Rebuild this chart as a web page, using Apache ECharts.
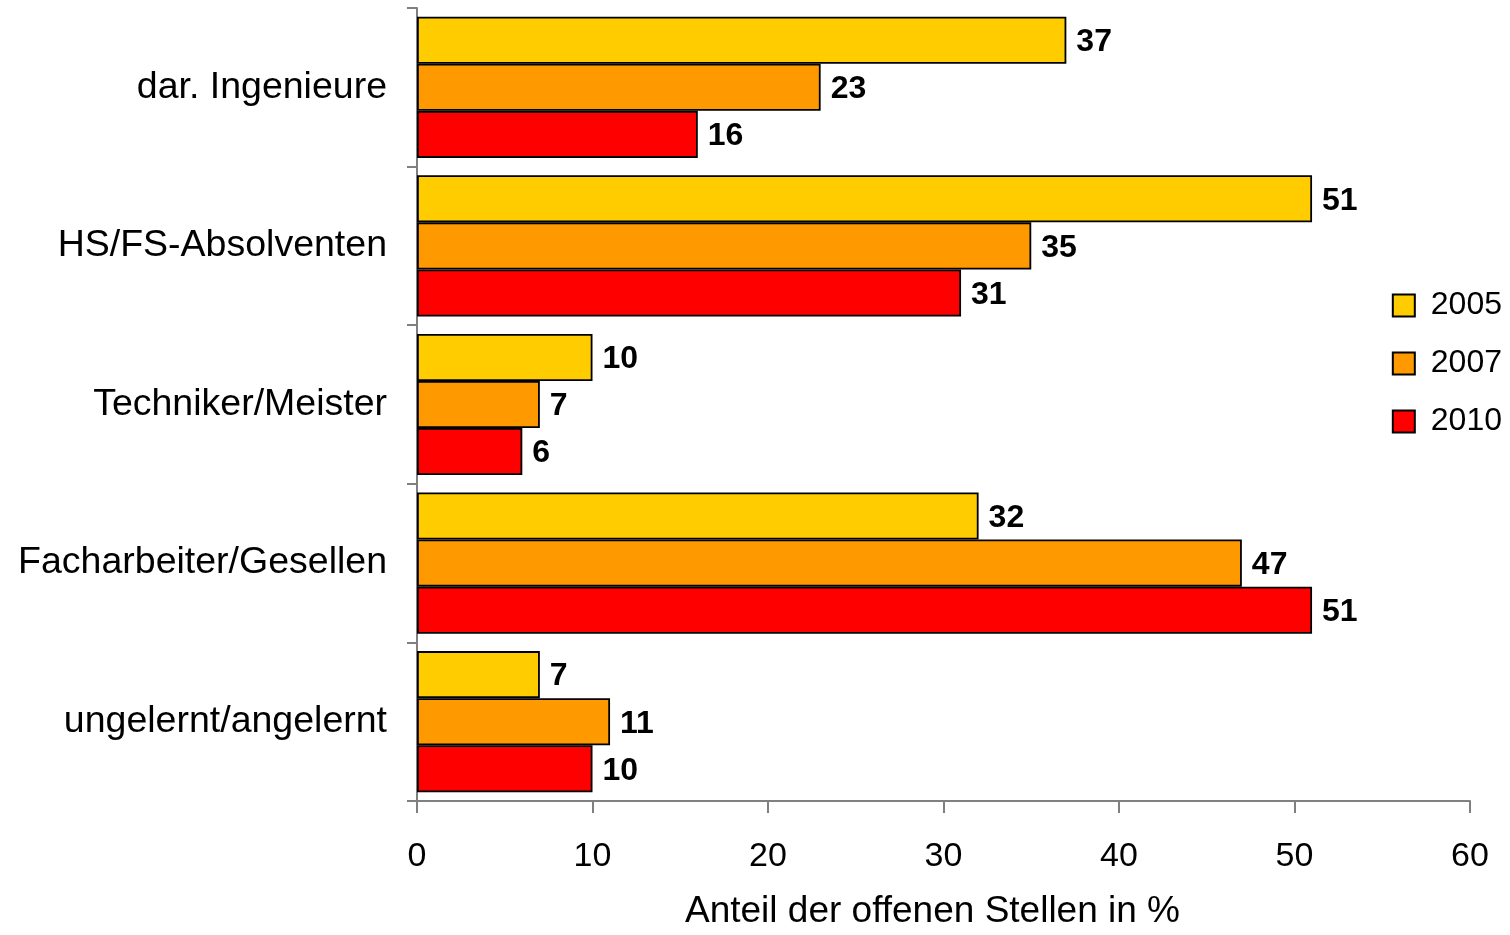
<!DOCTYPE html>
<html>
<head>
<meta charset="utf-8">
<script src="https://cdn.jsdelivr.net/npm/echarts@6/dist/echarts.min.js"></script>
<style>
  html, body { margin: 0; padding: 0; background: #fff; }
  #chart { width: 1510px; height: 935px; }
</style>
</head>
<body>
<div id="chart"></div>
<script>
var categories = ['dar. Ingenieure', 'HS/FS-Absolventen', 'Techniker/Meister', 'Facharbeiter/Gesellen', 'ungelernt/angelernt'];
var years = ['2005', '2007', '2010'];
var values2005 = [37, 51, 10, 32, 7];
var values2007 = [23, 35, 7, 47, 11];
var values2010 = [16, 31, 6, 51, 10];
var xTicks = [0, 10, 20, 30, 40, 50, 60];
var colors = ['#FFCC00', '#FF9900', '#FF0000'];

var font = "'Liberation Sans', Arial, sans-serif";
var chart = echarts.init(document.getElementById('chart'));

function makeSeries(name, data, color) {
  return {
    name: name,
    type: 'bar',
    data: data,
    barGap: '0%',
    barCategoryGap: '11%',
    itemStyle: { color: color, borderColor: '#000', borderWidth: 1.8 },
    label: {
      show: true,
      position: 'right',
      distance: 10,
      offset: [0, 2],
      color: '#000',
      fontFamily: font,
      fontWeight: 'bold',
      fontSize: 32
    }
  };
}

var option = {
  animation: false,
  backgroundColor: '#fff',
  textStyle: { fontFamily: font },
  grid: { left: 417, right: 40, top: 8, bottom: 132, containLabel: false },
  legend: {
    orient: 'vertical',
    right: 3,
    top: 284,
    itemWidth: 22,
    itemHeight: 22,
    itemGap: 25,
    icon: 'rect',
    data: years,
    itemStyle: { borderColor: '#000', borderWidth: 2 },
    textStyle: { fontFamily: font, fontSize: 32, lineHeight: 33, color: '#000', padding: [0, 0, 0, 11] }
  },
  xAxis: {
    type: 'value',
    min: xTicks[0],
    max: xTicks[xTicks.length - 1],
    interval: 10,
    name: 'Anteil der offenen Stellen in %',
    nameLocation: 'middle',
    nameGap: 92,
    nameTextStyle: { fontFamily: font, fontSize: 37, color: '#000', padding: [0, 22, 0, 0] },
    axisLine: { show: true, lineStyle: { color: '#808080', width: 2 } },
    axisTick: { show: true, length: 12, lineStyle: { color: '#808080', width: 2 } },
    axisLabel: { fontFamily: font, fontSize: 34, color: '#000', margin: 39 },
    splitLine: { show: false }
  },
  yAxis: {
    type: 'category',
    data: categories,
    inverse: true,
    axisLine: { show: true, lineStyle: { color: '#808080', width: 2 } },
    axisTick: { show: true, length: 10, lineStyle: { color: '#808080', width: 2 } },
    axisLabel: { fontFamily: font, fontSize: 37.5, color: '#000', margin: 30 }
  },
  series: [
    makeSeries(years[0], values2005, colors[0]),
    makeSeries(years[1], values2007, colors[1]),
    makeSeries(years[2], values2010, colors[2])
  ]
};

chart.setOption(option);
</script>
</body>
</html>
